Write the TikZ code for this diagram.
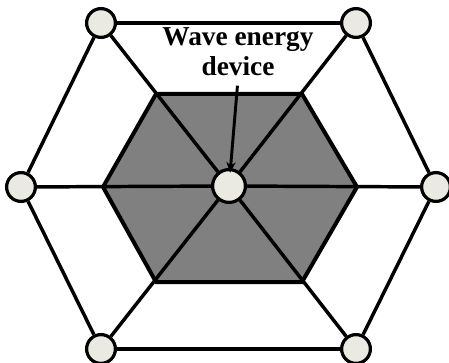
\documentclass[tikz,border=0pt]{standalone}
\usepackage{fontspec}
\setmainfont{Liberation Serif}
\usepackage{xcolor}
\usepackage{tikz}
\usetikzlibrary{positioning,backgrounds,arrows.meta}
\definecolor{buoyfill}{HTML}{EAEAE2}
\definecolor{zonefill}{HTML}{808080}
\tikzset{
  buoy/.style={circle, fill=buoyfill, draw=black, line width=2.4pt,
               minimum size=24pt-2.4pt, inner sep=0pt},
  cable/.style={draw=black, line width=2.6pt},
  zone/.style={fill=zonefill, draw=black, line width=3pt, line join=miter},
  callout/.style={align=center, font=\bfseries\fontsize{20.5}{22.5}\selectfont,
                  inner sep=2pt},
  pointer/.style={-{Stealth[length=8pt,width=7pt]}, line width=2.2pt,
                  shorten <=5pt, shorten >=10pt}
}

\begin{document}
\begin{tikzpicture}[x=0.75pt, y=-0.75pt]
  \useasboundingbox (0,0) rectangle (449,363);

  % ===== Inner (shaded) hexagon =====
  \coordinate (i1) at (156, 94);
  \coordinate (i2) at (302, 94);
  \coordinate (i3) at (357,187);
  \coordinate (i4) at (302,282);
  \coordinate (i5) at (156,282);
  \coordinate (i6) at (103,187);
  \draw[zone] (i1) -- (i2) -- (i3) -- (i4) -- (i5) -- (i6) -- cycle;

  % ===== Buoys on the outer hexagon and the device =====
  \node[buoy] (o1) at (101, 23) {};
  \node[buoy] (o2) at (356, 23) {};
  \node[buoy] (o3) at (436,187) {};
  \node[buoy] (o4) at (356,349) {};
  \node[buoy] (o5) at (101,349) {};
  \node[buoy] (o6) at (21, 187) {};
  \node[buoy, minimum size=27pt-2.4pt] (dev) at (229,186) {};

  % Outer ring of cables
  \foreach \a/\b in {o1/o2, o2/o3, o3/o4, o4/o5, o5/o6, o6/o1}
    \draw[cable] (\a) -- (\b);

  % Spokes from the device to every buoy
  \foreach \o in {o1,o2,o3,o4,o5,o6}
    \draw[cable] (dev) -- (\o);

  % ===== Label and pointer =====
  \node[callout] (lbl) at (238,52) {Wave energy\\device};
  \draw[pointer] (lbl.south) -- (dev.center);

\end{tikzpicture}
\end{document}
